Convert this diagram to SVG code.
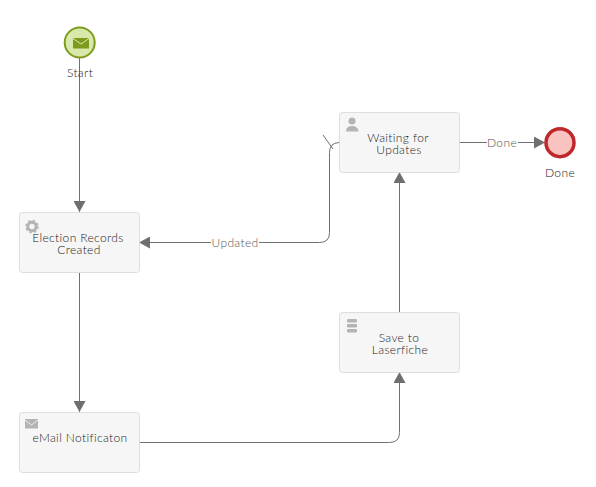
<svg xmlns="http://www.w3.org/2000/svg" width="596" height="487" viewBox="0 0 596 487">
<style>
text{font-family:"Lato","Open Sans","Liberation Sans",sans-serif;font-size:12px;font-weight:300;letter-spacing:.36px;font-variant-ligatures:none;fill:#222;text-anchor:middle}
.task{fill:#f6f6f6;stroke:#ddd;stroke-width:1}
.line{fill:none;stroke:#707070;stroke-width:1}
.icon{fill:#b4b4b4}
text.lbl{fill:#555}
</style>
<defs>
<marker id="arrow" markerUnits="userSpaceOnUse" markerWidth="11" markerHeight="12" refX="11" refY="6" orient="auto"><path d="M0 0L11 6L0 12Z" fill="#6f6f6f"/></marker>
</defs>
<g id="connectors">
<path class="line" marker-end="url(#arrow)" d="M79.500 57V212"/>
<path class="line" marker-end="url(#arrow)" d="M79.500 272V412"/>
<path class="line" marker-end="url(#arrow)" d="M139 442.500H389.500Q399.500 442.500 399.500 432.500V372"/>
<path class="line" marker-end="url(#arrow)" d="M399.500 312V172"/>
<path class="line" marker-end="url(#arrow)" d="M339 142.500Q329.500 143 329.500 152.500V232.500Q329.500 242.500 319.500 242.500H139"/>
<path class="line" d="M323 135L333 149"/>
<path class="line" marker-end="url(#arrow)" d="M460 142.500H545"/>
<rect x="211" y="236" width="48" height="14" fill="#fff"/>
<text class="lbl" x="235" y="247">Updated</text>
<rect x="487" y="136" width="31" height="14" fill="#fff"/>
<text class="lbl" x="502" y="147">Done</text>
</g>
<g id="start">
<circle cx="79.700" cy="42.500" r="15" fill="#d9e9ab" stroke="#7d9c1d" stroke-width="2"/>
<rect x="73" y="38" width="16" height="10.500" fill="#7d9c1d"/>
<path d="M73 38.500L81 44L89 38.500" fill="none" stroke="#d9e9ab" stroke-width="1"/>
<text x="80" y="77">Start</text>
</g>
<g id="election">
<rect class="task" x="19.500" y="212.500" width="120" height="60" rx="3"/>
<circle cx="32" cy="226.500" r="4.200" fill="none" stroke="#b4b4b4" stroke-width="3"/>
<circle cx="32" cy="226.500" r="6" fill="none" stroke="#b4b4b4" stroke-width="1.600" stroke-dasharray="2.400 2.310"/>
<text x="78" y="242">Election Records<tspan x="79" dy="12">Created</tspan></text>
</g>
<g id="email">
<rect class="task" x="19.500" y="412.500" width="120" height="60" rx="3"/>
<rect x="25" y="419" width="13" height="9.500" fill="#b4b4b4"/>
<path d="M25 420L31.500 425L38 420" fill="none" stroke="#eee" stroke-width="1"/>
<text x="80" y="442">eMail Notificaton</text>
</g>
<g id="save">
<rect class="task" x="339.500" y="312.500" width="120" height="60" rx="3"/>
<rect class="icon" x="347" y="319" width="10" height="3.500" rx="1"/>
<rect class="icon" x="347" y="324" width="10" height="3.500" rx="1"/>
<rect class="icon" x="347" y="329" width="10" height="3.500" rx="1"/>
<text x="399" y="342">Save to<tspan x="400" dy="12">Laserfiche</tspan></text>
</g>
<g id="waiting">
<rect class="task" x="339.500" y="112.500" width="120" height="60" rx="3"/>
<circle class="icon" cx="352" cy="121" r="3.500"/>
<path class="icon" d="M346 131.500Q346 126 352 126Q358 126 358.500 131.500Z"/>
<text x="398" y="142">Waiting for<tspan x="399" dy="12">Updates</tspan></text>
</g>
<g id="done">
<circle cx="560" cy="142.700" r="14" fill="#f9c3c0" stroke="#c0272d" stroke-width="3.500"/>
<text x="560" y="177">Done</text>
</g>
</svg>
